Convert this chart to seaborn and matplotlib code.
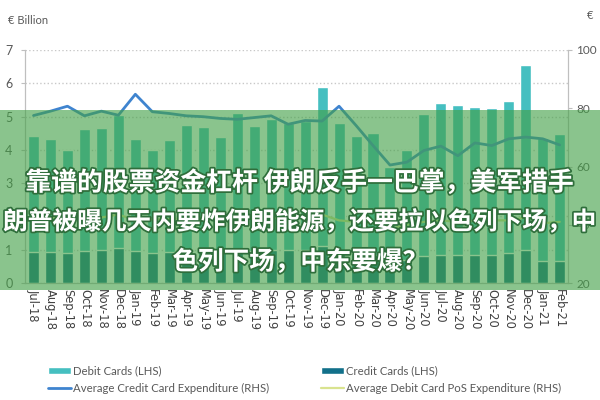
import numpy as np
import pandas as pd
import seaborn as sns
import matplotlib.pyplot as plt
import matplotlib.patheffects as pe
from matplotlib.patches import Rectangle

months = ["Jul-18", "Aug-18", "Sep-18", "Oct-18", "Nov-18", "Dec-18",
          "Jan-19", "Feb-19", "Mar-19", "Apr-19", "May-19", "Jun-19",
          "Jul-19", "Aug-19", "Sep-19", "Oct-19", "Nov-19", "Dec-19",
          "Jan-20", "Feb-20", "Mar-20", "Apr-20", "May-20", "Jun-20",
          "Jul-20", "Aug-20", "Sep-20", "Oct-20", "Nov-20", "Dec-20",
          "Jan-21", "Feb-21"]
debit = [4.42, 4.33, 4.0, 4.62, 4.65, 5.05, 4.34, 4.0, 4.29, 4.74, 4.69, 4.38,
         5.1, 4.73, 4.92, 4.82, 4.87, 5.9, 4.8, 4.42, 4.5, 3.5, 4.0, 5.07,
         5.4, 5.34, 5.3, 5.25, 5.47, 6.55, 4.35, 4.47]
credit = [0.94, 0.94, 0.9, 0.96, 1.0, 1.05, 0.97, 0.9, 0.94, 0.98, 0.98, 0.95,
          1.0, 0.97, 0.98, 1.0, 1.0, 1.12, 0.95, 0.9, 0.85, 0.62, 0.7, 0.8,
          0.84, 0.84, 0.84, 0.84, 0.9, 1.0, 0.65, 0.66]
avg_credit = [77.5, 79.0, 80.7, 77.4, 79.0, 77.6, 84.8, 78.8, 78.2, 77.4, 77.1, 76.5,
              76.2, 76.8, 77.4, 74.5, 75.8, 75.6, 80.7, 74.1, 67.2, 60.5, 61.5, 65.5,
              67.0, 63.7, 68.1, 67.2, 69.5, 70.1, 69.5, 67.4]
avg_debit = [42.0, 42.5, 42.0, 42.3, 42.5, 43.5, 41.5, 41.8, 42.0, 42.3, 42.5, 42.3,
             42.8, 42.5, 42.3, 42.5, 42.5, 43.5, 41.5, 41.0, 40.5, 38.5, 40.0, 41.0,
             41.5, 41.0, 41.3, 41.5, 41.5, 42.5, 40.5, 41.0]

df = pd.DataFrame({"month": months, "debit": debit, "credit": credit,
                   "avg_credit": avg_credit, "avg_debit": avg_debit})
df["pos"] = np.arange(len(df))

sns.set_style("white")
plt.rcParams["font.family"] = ["Lato", "DejaVu Sans"]
grey = "#595959"

fig = plt.figure(figsize=(6, 4), dpi=100)
ax = fig.add_axes([0.0417, 0.2925, 0.9053, 0.5825])

sns.barplot(data=df, x="pos", y="debit", native_scale=True, color="#45bfc0",
            width=0.65, saturation=1, label="Debit Cards (LHS)", ax=ax, zorder=2)
sns.barplot(data=df, x="pos", y="credit", native_scale=True, color="#12708a",
            width=0.65, saturation=1, label="Credit Cards (LHS)", ax=ax, zorder=3)
ax.set_ylim(0, 7)
ax.set_xlim(-0.5, len(df) - 0.5)
ax.set_yticks(range(8))
ax.yaxis.grid(True, linestyle=":", color="#c8c8c8", linewidth=1)
ax.set_axisbelow(True)
ax.set_xticks(df["pos"], df["month"], rotation=-90, fontsize=8.3, color="#404040",
              family="DejaVu Sans")
ax.tick_params(axis="y", labelsize=9, labelcolor=grey, length=3, color="#bfbfbf", pad=6)
ax.tick_params(axis="x", length=0, pad=4)
ax.set_xlabel("")
ax.set_ylabel("")

ax2 = ax.twinx()
sns.lineplot(data=df, x="pos", y="avg_credit", color="#3f84cf", linewidth=2,
             label="Average Credit Card Expenditure (RHS)", ax=ax2, legend=False)
sns.lineplot(data=df, x="pos", y="avg_debit", color="#d9e38f", linewidth=1.6,
             label="Average Debit Card PoS Expenditure (RHS)", ax=ax2, legend=False)
ax2.set_ylim(20, 100)
ax2.set_yticks([20, 40, 60, 80, 100])
ax2.set_ylabel("")
ax2.tick_params(axis="y", labelsize=8.5, labelcolor=grey, length=3, color="#bfbfbf", pad=3)

for a in (ax, ax2):
    a.spines["top"].set_visible(False)
    for s in ("left", "right", "bottom"):
        a.spines[s].set_color("#bfbfbf")
    if a.get_legend() is not None:
        a.get_legend().remove()

fig.text(0.013, 0.95, "€ Billion", fontsize=8, color=grey, va="center")
fig.text(0.978, 0.962, "€", fontsize=8, color=grey, va="center")

h1, l1 = ax.get_legend_handles_labels()
h2, l2 = ax2.get_legend_handles_labels()
fig.legend([h1[0], h2[0], h1[1], h2[1]], [l1[0], l2[0], l1[1], l2[1]],
           ncol=2, loc="upper left", bbox_to_anchor=(0.072, 0.098), frameon=False,
           fontsize=8.2, labelcolor=grey, handlelength=2.0, handleheight=0.6,
           handletextpad=0.2, columnspacing=4.6, labelspacing=0.55, borderaxespad=0)

# green banner with headline on top of the chart
fig.patches.append(Rectangle((0, 0.275), 1, 0.45, transform=fig.transFigure,
                             facecolor="#43a047", alpha=0.62, zorder=10, linewidth=0))
lines = ["靠谱的股票资金杠杆 伊朗反手一巴掌，美军措手",
         "朗普被曝几天内要炸伊朗能源，还要拉以色列下场，中",
         "色列下场，中东要爆？"]
ys = [183, 222, 262]
sizes = [18.6, 17.8, 18.4]
for txt, y, fs in zip(lines, ys, sizes):
    fig.text(0.5, 1 - y / 400, txt, ha="center", va="center", fontsize=fs,
             fontweight="bold", color="white",
             family=["Noto Sans CJK SC", "DejaVu Sans"], zorder=11,
             path_effects=[pe.withStroke(linewidth=2.5, foreground="#2f6e3b")])

fig.savefig("out.png", dpi=100)
